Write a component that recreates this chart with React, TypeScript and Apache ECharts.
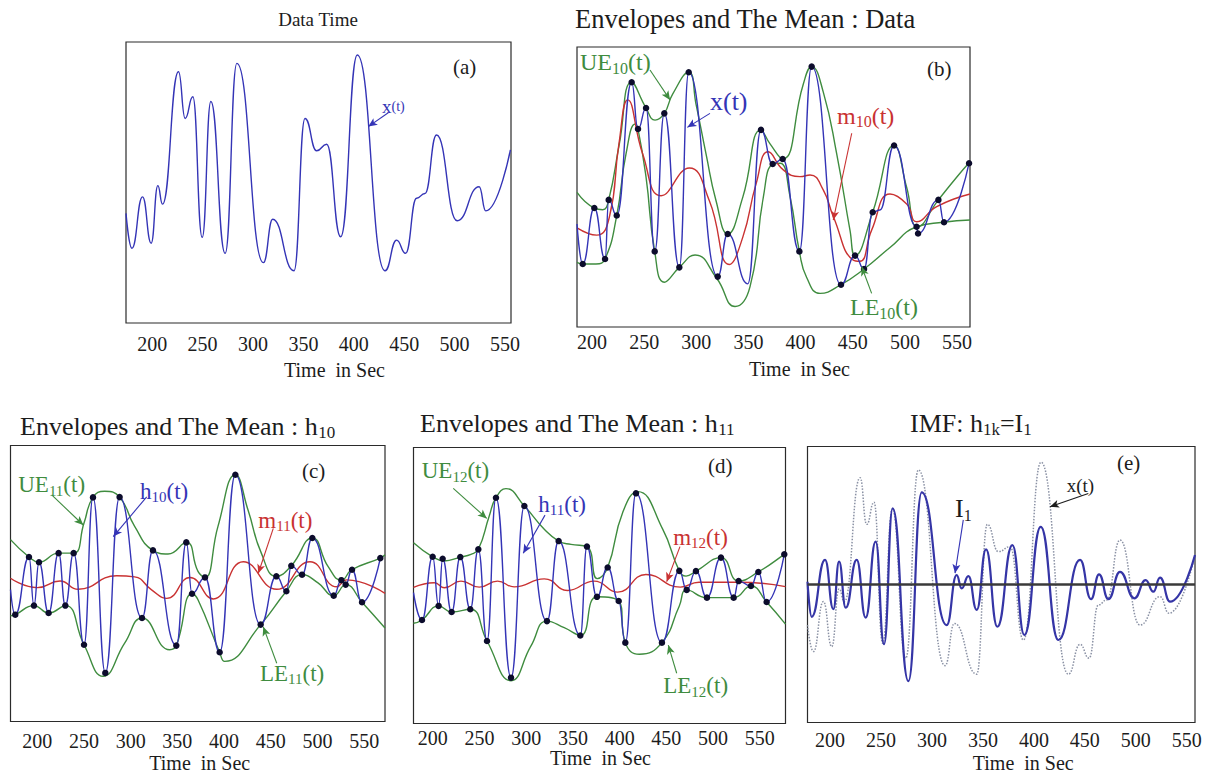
import React, { useEffect, useRef } from "react";
import * as echarts from "echarts";

const SERIF = '"Liberation Serif", "Times New Roman", Times, serif';
const TICK_VALUES = [200, 250, 300, 350, 400, 450, 500, 550];

// (a) raw signal x(t): [time, value]
const xSignalA: number[][] = [
  [174, 39.0], [179.9, 26.6], [190.4, 44.9], [199.0, 28.4], [205.6, 48.9], [210.2, 42.3],
  [226.1, 89.4], [232.7, 72.8], [240.3, 80.5], [249.6, 30.5], [258.2, 78.8], [272.4, 24.8],
  [284.0, 92.4], [310.3, 21.5], [319.6, 36.9], [340.7, 18.6], [351.6, 72.8], [363.2, 61.3],
  [373.1, 63.6], [387.0, 30.7], [403.5, 95.4], [431.0, 18.6], [442.5, 29.5], [451.4, 24.8],
  [462.3, 44.4], [470.6, 46.1], [482.1, 66.9], [502.6, 36.4], [524.4, 48.5], [531.0, 39.9],
  [555.4, 61.6],
];

// (b) x(t) through its extrema: [time, value, isExtremumDot]
const xSignalB: number[][] = [
  [185.6, 36.8, 0], [191.1, 22.5, 1], [202.2, 42.5, 1], [212.5, 24.3, 1], [216.0, 45.4, 1],
  [223.7, 39.8, 1], [238.0, 87.4, 1], [244.1, 70.7, 1], [251.8, 78.2, 1], [260.1, 27.0, 1],
  [269.3, 76.3, 1], [283.7, 21.3, 1], [292.7, 91.0, 1], [320.5, 18.0, 1], [330.1, 33.2, 1],
  [349.3, 15.4, 0], [362.0, 70.4, 1], [373.2, 58.2, 1], [382.8, 60.0, 1], [398.8, 27.0, 1],
  [410.6, 93.0, 1], [438.7, 15.1, 1], [452.2, 25.5, 1], [460.8, 20.7, 1], [469.1, 41.0, 1],
  [476.1, 41.8, 0], [489.6, 64.8, 1], [511.2, 35.8, 1], [512.6, 33.4, 1], [532.1, 45.4, 1],
  [537.5, 37.4, 1], [561.5, 58.5, 1],
];
const ue10: number[][] = [
  [185.6, 48.1], [202.2, 42.5], [210.2, 41.9], [216.0, 45.4], [226.2, 65.4], [238.0, 87.4],
  [251.8, 78.2], [260.4, 73.9], [269.3, 76.3], [277.3, 83.2], [292.7, 91.0], [299.7, 79.6],
  [309.3, 61.8], [318.9, 45.1], [330.1, 33.2], [344.5, 46.3], [362.0, 70.4], [370.7, 65.4],
  [382.8, 60.0], [402.6, 86.8], [410.6, 93.0], [421.8, 83.8], [434.6, 61.8], [447.4, 34.4],
  [452.2, 25.5], [469.1, 41.0], [489.6, 64.8], [501.7, 49.8], [512.2, 35.8], [532.1, 45.4],
  [549.6, 53.5], [562.4, 59.0],
];
const le10: number[][] = [
  [185.6, 23.1], [191.1, 22.5], [203.8, 22.5], [212.5, 24.3], [223.7, 39.8], [232.6, 61.8],
  [241.5, 72.5], [244.1, 70.7], [251.8, 53.5], [260.1, 27.0], [269.3, 16.0], [283.7, 21.3],
  [298.8, 25.7], [319.5, 17.4], [337.1, 7.3], [351.5, 14.4], [364.3, 46.5], [373.2, 58.2],
  [380.3, 58.5], [390.0, 46.3], [398.8, 27.0], [405.8, 17.7], [418.6, 12.0], [438.7, 15.1],
  [460.8, 20.7], [485.7, 28.4], [511.3, 35.8], [536.8, 37.4], [562.4, 38.2],
];
const m10: number[][] = [
  [185.6, 35.4], [204.5, 32.8], [216.6, 39.2], [225.8, 65.4], [234.2, 81.1], [248.6, 61.8],
  [266.2, 46.9], [293.3, 56.8], [312.5, 45.1], [331.6, 22.3], [344.5, 32.0], [357.3, 51.1],
  [369.0, 62.6], [383.4, 56.1], [399.4, 53.7], [409.0, 54.3], [421.8, 48.9], [431.4, 39.4],
  [450.5, 23.9], [456.9, 23.5], [468.1, 34.6], [485.7, 47.5], [501.7, 43.9], [511.3, 37.6],
  [530.5, 43.0], [562.4, 47.5],
];

// (c) first sifting result h10 and its envelopes / mean
const h10: number[][] = [
  [171.4, 47.8, 0], [176.5, 38.7, 1], [191.2, 59.6, 1], [196.5, 42.0, 1], [201.9, 57.7, 1],
  [212.2, 39.3, 1], [222.9, 61.0, 1], [230.1, 42.0, 1], [239.0, 61.0, 1], [250.1, 27.8, 1],
  [259.7, 81.2, 1], [272.9, 17.6, 1], [288.2, 81.3, 1], [312.2, 37.5, 1], [323.9, 62.0, 1],
  [348.9, 27.5, 1], [359.6, 64.9, 1], [365.7, 46.3, 1], [379.6, 52.2, 1], [395.3, 25.1, 1],
  [412.1, 89.4, 1], [439.2, 35.1, 1], [456.0, 52.6, 1], [466.7, 47.2, 1], [472.0, 56.4, 1],
  [483.5, 53.2, 1], [494.5, 66.5, 1], [517.4, 45.6, 1], [525.6, 51.2, 1], [530.2, 49.6, 1],
  [537.0, 55.0, 1], [547.7, 43.2, 1], [567.3, 59.2, 1],
];
const ue11: number[][] = [
  [171.4, 65.9], [191.2, 59.6], [201.9, 57.7], [222.9, 61.0], [239.0, 61.0], [250.1, 71.9],
  [259.7, 81.2], [272.2, 83.4], [288.2, 81.3], [304.3, 70.7], [323.9, 62.0], [340.0, 60.7],
  [359.6, 64.9], [372.1, 54.4], [379.6, 52.2], [393.5, 70.7], [412.1, 89.4], [425.6, 76.7],
  [439.9, 61.0], [456.0, 52.6], [472.0, 56.4], [494.5, 66.5], [511.3, 56.2], [525.6, 51.2],
  [537.0, 55.0], [567.3, 59.2], [572.3, 60.4],
];
const le11: number[][] = [
  [171.4, 38.3], [176.5, 38.7], [196.5, 42.0], [212.2, 39.3], [230.1, 42.0], [250.1, 27.8],
  [270.5, 16.4], [293.6, 28.4], [312.2, 37.5], [341.8, 26.0], [348.9, 27.5], [365.7, 46.3],
  [372.1, 44.1], [395.3, 25.1], [400.7, 21.8], [439.2, 35.1], [466.7, 47.2], [483.5, 53.2],
  [500.6, 50.2], [517.4, 45.6], [530.2, 49.6], [547.7, 43.2], [572.3, 33.9],
];
const m11: number[][] = [
  [171.4, 51.9], [200.0, 48.5], [224.4, 50.9], [243.9, 47.9], [285.0, 52.8], [304.3, 52.4],
  [322.1, 47.8], [338.6, 44.6], [363.5, 52.2], [388.5, 44.4], [420.6, 57.9], [456.4, 47.9],
  [492.0, 57.9], [520.6, 48.8], [531.3, 51.3], [572.3, 46.4],
];

// (d) second sifting result h11 and its envelopes / mean
const h11: number[][] = [
  [179.3, 47.4, 0], [188.4, 37.5, 1], [199.8, 60.4, 1], [206.2, 42.6, 1], [210.5, 59.7, 1],
  [220.1, 40.4, 1], [229.4, 60.3, 1], [240.1, 41.4, 1], [248.7, 63.1, 1], [258.0, 29.9, 1],
  [267.6, 81.8, 1], [283.7, 16.6, 1], [298.0, 78.8, 1], [322.2, 37.1, 1], [334.7, 66.1, 1],
  [357.9, 31.9, 1], [365.0, 64.1, 1], [375.7, 45.9, 1], [387.2, 56.5, 1], [399.0, 44.4, 1],
  [406.1, 29.3, 1], [417.5, 83.4, 1], [445.3, 29.3, 1], [463.9, 55.3, 1], [471.8, 48.4, 1],
  [481.7, 55.2, 1], [493.5, 45.6, 1], [508.5, 60.1, 1], [522.1, 45.6, 1], [527.4, 51.6, 1],
  [540.6, 49.8, 1], [548.5, 54.9, 1], [557.4, 44.0, 1], [576.3, 61.3, 1],
];
const ue12: number[][] = [
  [179.3, 65.5], [199.8, 60.4], [212.3, 58.9], [229.4, 60.3], [240.8, 61.3], [248.7, 63.1],
  [260.4, 75.2], [267.6, 81.8], [278.3, 85.1], [298.0, 78.8], [319.3, 70.4], [334.7, 66.1],
  [347.9, 64.9], [365.0, 64.1], [376.0, 52.5], [387.2, 56.5], [403.2, 76.4], [419.5, 84.0],
  [446.1, 70.4], [463.9, 55.3], [471.1, 53.4], [481.7, 55.2], [508.5, 60.1], [527.4, 51.6],
  [548.5, 54.9], [576.3, 61.3], [577.6, 61.8],
];
const le12: number[][] = [
  [179.3, 36.3], [188.4, 37.5], [206.2, 42.6], [220.1, 40.4], [240.1, 41.4], [258.0, 29.9],
  [283.7, 15.5], [305.1, 28.1], [322.2, 37.1], [340.7, 34.7], [357.9, 31.9], [375.7, 45.9],
  [399.0, 44.4], [406.1, 29.3], [421.1, 25.1], [445.3, 29.3], [463.9, 42.6], [471.8, 48.4],
  [493.5, 45.6], [522.1, 45.6], [540.6, 49.8], [557.4, 44.0], [577.6, 36.0],
];
const m12: number[][] = [
  [179.3, 49.3], [201.6, 51.0], [212.3, 49.2], [230.1, 51.6], [249.7, 49.4], [269.3, 51.6],
  [287.1, 49.5], [319.3, 52.4], [344.3, 48.2], [372.8, 51.6], [397.9, 47.6], [428.2, 54.0],
  [465.0, 49.4], [485.0, 51.2], [527.0, 51.2], [577.6, 49.6],
];

// (e) first IMF I1 against the original signal, both about zero
const imf1: number[][] = [
  [177.8, 1.0], [181.9, -11.7], [195.0, 8.9], [203.2, -8.9], [208.8, 8.3], [215.3, -8.4],
  [226.1, 8.9], [234.9, -12.0], [244.7, 15.5], [252.9, -21.6], [261.4, 27.6], [276.8, -35.0],
  [289.9, 33.4], [314.4, -14.7], [324.2, 3.4], [329.1, -1.4], [335.7, 3.0], [343.9, -9.2],
  [353.0, 12.7], [364.1, -15.3], [378.9, 14.3], [390.6, -18.3], [406.7, 20.9], [424.0, -20.1],
  [445.3, 8.9], [456.1, -5.3], [463.9, 3.7], [473.1, -5.3], [484.5, 4.6], [498.6, -5.0],
  [509.7, 1.6], [517.2, -2.6], [523.8, 2.5], [533.6, -6.2], [558.1, 10.7],
];
const xSignalE: number[][] = [
  [177.8, -14.7], [183.6, -24.3], [193.4, -6.2], [201.6, -22.5], [208.8, -1.6], [214.0, -6.2],
  [229.4, 38.7], [235.9, 21.8], [243.1, 29.8], [251.6, -21.3], [261.1, 27.4], [274.2, -26.7],
  [286.6, 41.5], [312.8, -29.4], [322.0, -14.1], [343.9, -32.5], [354.3, 21.8], [365.1, 11.9],
  [376.6, 13.7], [389.7, -20.1], [407.0, 44.3], [433.8, -32.5], [445.3, -21.7], [454.1, -26.7],
  [463.3, -7.4], [471.4, -5.6], [484.5, 16.1], [504.1, -14.7], [523.8, -4.4], [532.6, -10.4],
  [558.1, 10.7],
];
const zeroLevel = 0;

const BLUE = "#3434b6";
const GREEN = "#3f8c3f";
const RED = "#c93232";
const DOT = "#0c0c2c";
const INK = "#1c1c1c";
const GRAY = "#8a91a4";

type Coord = [number, number];

function richFor(color: string, main: number, sub: number) {
  return {
    m: { color, fill: color, fontFamily: SERIF, fontSize: main, lineHeight: main + 4 },
    s: { color, fill: color, fontFamily: SERIF, fontSize: sub, lineHeight: sub, verticalAlign: "bottom" },
    t: { color, fill: color, fontFamily: SERIF, fontSize: sub, lineHeight: main + 4 },
  };
}

function tag(coord: Coord, text: string, color: string, main = 23, sub = 15) {
  return {
    coord,
    symbol: "circle",
    symbolSize: 0,
    label: { show: true, position: "right", distance: 0, formatter: text, rich: richFor(color, main, sub) },
  };
}

function arrow(from: Coord, to: Coord) {
  return [{ coord: from }, { coord: to }];
}

function marks(color: string, tags: any[], arrows: any[]) {
  return {
    markPoint: { silent: true, symbolSize: 0, itemStyle: { color: "rgba(0,0,0,0)" }, data: tags },
    markLine: {
      silent: true,
      symbol: ["none", "arrow"],
      symbolSize: [6, 9],
      label: { show: false },
      lineStyle: { color, width: 1.1, type: "solid" },
      data: arrows,
    },
  };
}

function curve(i: number, data: number[][], color: string, width: number, monotone: boolean, extra: any = {}) {
  return {
    type: "line",
    xAxisIndex: i,
    yAxisIndex: i,
    data: data.map((p) => [p[0], p[1]]),
    smooth: 0.5,
    smoothMonotone: monotone ? "x" : undefined,
    showSymbol: false,
    silent: true,
    lineStyle: { color, width },
    ...extra,
  };
}

function dottedSignal(i: number, data: number[][], extra: any = {}) {
  return {
    type: "line",
    xAxisIndex: i,
    yAxisIndex: i,
    data: data.map((p) => ({ value: [p[0], p[1]], symbol: p[2] ? "circle" : "none" })),
    smooth: 0.5,
    smoothMonotone: "x",
    showSymbol: true,
    showAllSymbol: true,
    symbol: "circle",
    symbolSize: 6.5,
    silent: true,
    itemStyle: { color: DOT },
    lineStyle: { color: BLUE, width: 1.4 },
    ...extra,
  };
}

function timeAxis(i: number, min: number, max: number, margin: number, gap: number, pad: number) {
  return {
    type: "value",
    gridIndex: i,
    min,
    max,
    axisLine: { show: false },
    axisTick: { show: false },
    splitLine: { show: false },
    axisLabel: { customValues: TICK_VALUES, margin, fontSize: 20, fontFamily: SERIF, color: INK },
    name: "Time\u00a0 in Sec",
    nameLocation: "middle",
    nameGap: gap,
    nameTextStyle: { fontSize: 20, fontFamily: SERIF, color: INK, padding: [0, 0, 0, pad] },
  };
}

function hiddenAxis(i: number, min: number, max: number) {
  return { type: "value", gridIndex: i, min, max, show: false };
}

function titleText(x: number, y: number, text: string, size: number, align = "left", sub = 16) {
  return {
    type: "text",
    x,
    y,
    silent: true,
    style: {
      text,
      align,
      verticalAlign: "middle",
      fill: INK,
      fontSize: size,
      fontFamily: SERIF,
      rich: {
        m: { fill: INK, fontFamily: SERIF, fontSize: size, lineHeight: size + 4 },
        s: { fill: INK, fontFamily: SERIF, fontSize: sub, lineHeight: sub, verticalAlign: "bottom" },
      },
    },
  };
}

function buildOption() {
  const frame = { show: true, borderColor: "#2b2b2b", borderWidth: 1.2, backgroundColor: "#ffffff" };
  return {
    animation: false,
    backgroundColor: "#ffffff",
    grid: [
      { ...frame, left: 126, top: 42, width: 385, height: 281 },
      { ...frame, left: 577, top: 47, width: 393, height: 280 },
      { ...frame, left: 10.5, top: 445.5, width: 374.5, height: 276 },
      { ...frame, left: 413.5, top: 447.5, width: 372, height: 276 },
      { ...frame, left: 807.5, top: 446.5, width: 387.5, height: 276 },
    ],
    xAxis: [
      timeAxis(0, 174, 556, 11, 37, 32),
      timeAxis(1, 185.6, 562.4, 4.5, 31.5, 52),
      timeAxis(2, 171.4, 572.3, 9.5, 31, 4),
      timeAxis(3, 179.3, 577.6, 4, 24.5, 2),
      timeAxis(4, 177.8, 558.1, 7, 30, 44),
    ],
    yAxis: [
      hiddenAxis(0, 0, 100),
      hiddenAxis(1, 0, 100),
      hiddenAxis(2, 0, 100),
      hiddenAxis(3, 0, 100),
      hiddenAxis(4, -50, 50),
    ],
    graphic: [
      titleText(318, 19, "{m|Data Time}", 19, "center"),
      titleText(575, 19, "{m|Envelopes and The Mean : Data}", 26.5),
      titleText(20, 426, "{m|Envelopes and The Mean : h}{s|10}", 26, "left", 17),
      titleText(420, 423, "{m|Envelopes and The Mean : h}{s|11}", 26, "left", 17),
      titleText(910, 423, "{m|IMF: h}{s|1k}{m|=I}{s|1}", 26, "left", 17),
      titleText(453, 66.5, "{m|(a)}", 21),
      titleText(927, 68.5, "{m|(b)}", 21),
      titleText(302, 471, "{m|(c)}", 21),
      titleText(708, 466, "{m|(d)}", 21),
      titleText(1117, 463, "{m|(e)}", 21),
    ],
    series: [
      // (a)
      curve(0, xSignalA, BLUE, 1.4, true, marks(BLUE, [tag([428, 77.2], "{m|x}{t|(t)}", BLUE, 19, 14)], [arrow([434.2, 74.8], [414.4, 69.9])])),

      // (b)
      curve(1, ue10, GREEN, 1.4, false, marks(GREEN,
        [tag([188.5, 94.6], "{m|UE}{s|10}{m|(t)}", GREEN, 24, 16), tag([447.4, 7.1], "{m|LE}{s|10}{m|(t)}", GREEN, 24, 16)],
        [arrow([255.6, 91.8], [274.8, 81.1]), arrow([468.1, 12.0], [458.6, 21.5])])),
      curve(1, le10, GREEN, 1.4, false),
      curve(1, m10, RED, 1.4, false, marks(RED,
        [tag([434.9, 75.4], "{m|m}{s|10}{m|(t)}", RED, 24, 16)],
        [arrow([449.0, 69.2], [431.3, 38.2])])),
      dottedSignal(1, xSignalB, marks(BLUE,
        [tag([313.1, 80.4], "{m|x(t)}", BLUE, 26, 16)],
        [arrow([313.1, 76.3], [291.4, 71.3])])),

      // (c)
      curve(2, ue11, GREEN, 1.4, false, marks(GREEN,
        [tag([179.7, 85.7], "{m|UE}{s|11}{m|(t)}", GREEN), tag([438.5, 17.5], "{m|LE}{s|11}{m|(t)}", GREEN)],
        [arrow([215.5, 82.1], [249.3, 71.2]), arrow([456.4, 21.1], [442.0, 34.3])])),
      curve(2, le11, GREEN, 1.4, false),
      curve(2, m11, RED, 1.4, false, marks(RED,
        [tag([436.7, 73.0], "{m|m}{s|11}{m|(t)}", RED)],
        [arrow([452.7, 70.0], [436.7, 53.7])])),
      dottedSignal(2, h10, marks(BLUE,
        [tag([310.0, 83.5], "{m|h}{s|10}{m|(t)}", BLUE)],
        [arrow([317.2, 81.4], [281.4, 67.0])])),

      // (d)
      curve(3, ue12, GREEN, 1.4, false, marks(GREEN,
        [tag([188.1, 91.6], "{m|UE}{s|12}{m|(t)}", GREEN), tag([446.7, 13.7], "{m|LE}{s|12}{m|(t)}", GREEN)],
        [arrow([221.9, 85.2], [257.7, 74.3]), arrow([461.1, 18.2], [452.1, 28.4])])),
      curve(3, le12, GREEN, 1.4, false),
      curve(3, m12, RED, 1.4, false, marks(RED,
        [tag([457.4, 67.4], "{m|m}{s|12}{m|(t)}", RED)],
        [arrow([464.6, 64.1], [450.4, 51.4])])),
      dottedSignal(3, h11, marks(BLUE,
        [tag([312.9, 79.5], "{m|h}{s|11}{m|(t)}", BLUE)],
        [arrow([320.1, 75.5], [296.8, 61.7])])),

      // (e)
      curve(4, xSignalE, GRAY, 1.5, true, {
        lineStyle: { color: GRAY, width: 1.5, type: "dotted" },
        ...marks(INK, [tag([432.2, 35.8], "{m|x(t)}", INK, 19, 13)], [arrow([453.4, 33.0], [415.8, 28.2])]),
      }),
      curve(4, imf1, "#3535a6", 2.2, true, {
        ...marks(BLUE, [tag([322.6, 27.6], "{m|I}{s|1}", INK, 26, 16)], [arrow([330.7, 23.4], [322.6, 4.1])]),
      }),
      // zero reference for panel (e), drawn above both curves
      {
        type: "line",
        xAxisIndex: 4,
        yAxisIndex: 4,
        data: [],
        silent: true,
        markLine: {
          silent: true,
          symbol: "none",
          symbolSize: 0,
          label: { show: false },
          lineStyle: { color: "#3a3a3a", width: 2.6, type: "solid" },
          data: [{ yAxis: zeroLevel }],
        },
      },
    ],
  };
}

export default function App() {
  const ref = useRef<HTMLDivElement>(null);
  useEffect(() => {
    const chart = echarts.init(ref.current as HTMLDivElement, null, { renderer: "svg" });
    chart.setOption(buildOption() as any);
    return () => chart.dispose();
  }, []);
  return (
    <div
      ref={ref}
      style={{ position: "absolute", left: 0, top: 0, width: 1206, height: 775, background: "#ffffff" }}
    />
  );
}
